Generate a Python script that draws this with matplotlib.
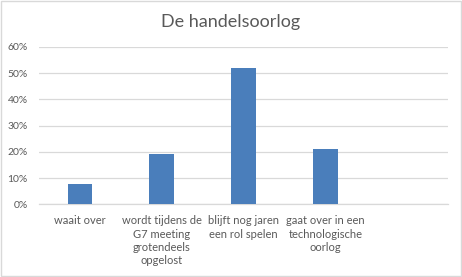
import matplotlib
matplotlib.use("Agg")
import matplotlib.pyplot as plt
from matplotlib.ticker import PercentFormatter

categories = ["waait over", "wordt tijdens de\nG7 meeting\ngrotendeels\nopgelost",
              "blijft nog jaren\neen rol spelen", "gaat over in een\ntechnologische\noorlog", ""]
values = [7.7, 19.0, 52.0, 21.2, None]
yticks = [0, 10, 20, 30, 40, 50, 60]
title = "De handelsoorlog"

plt.rcParams['font.family'] = ['Lato', 'DejaVu Sans']
text_color = "#595959"
bar_color = "#4a7ebb"

fig = plt.figure(figsize=(4.62, 2.77), dpi=100)
ax = fig.add_axes([38.9/462, 1-204.3/277, (448-38.9)/462, (204.3-47)/277])

xs = list(range(len(categories)))
for x, v in zip(xs, values):
    if v is not None:
        ax.bar(x, v, width=0.3, color=bar_color, zorder=3)

ax.set_xlim(-0.5, len(categories)-0.5)
ax.set_ylim(0, 60)
ax.set_yticks(yticks)
ax.yaxis.set_major_formatter(PercentFormatter(decimals=0))
ax.set_xticks(xs)
ax.set_xticklabels(categories, fontsize=8, color=text_color, linespacing=1.25)
ax.tick_params(axis='y', labelsize=7.5, colors=text_color, length=0, pad=8)
ax.tick_params(axis='x', length=0, pad=8, colors=text_color)
ax.grid(axis='y', color='#d9d9d9', linewidth=0.9, zorder=0)
for s in ['top', 'right', 'left']:
    ax.spines[s].set_visible(False)
ax.spines['bottom'].set_color('#d9d9d9')
ax.spines['bottom'].set_linewidth(0.9)

fig.text(0.5, 1-22/277, title, ha='center', va='center', fontsize=13, color=text_color)

border = plt.Rectangle((0.002, 0.003), 0.995, 0.993, transform=fig.transFigure,
                       fill=False, edgecolor='#d9d9d9', linewidth=1)
fig.patches.append(border)

fig.savefig("out.png", dpi=100)
